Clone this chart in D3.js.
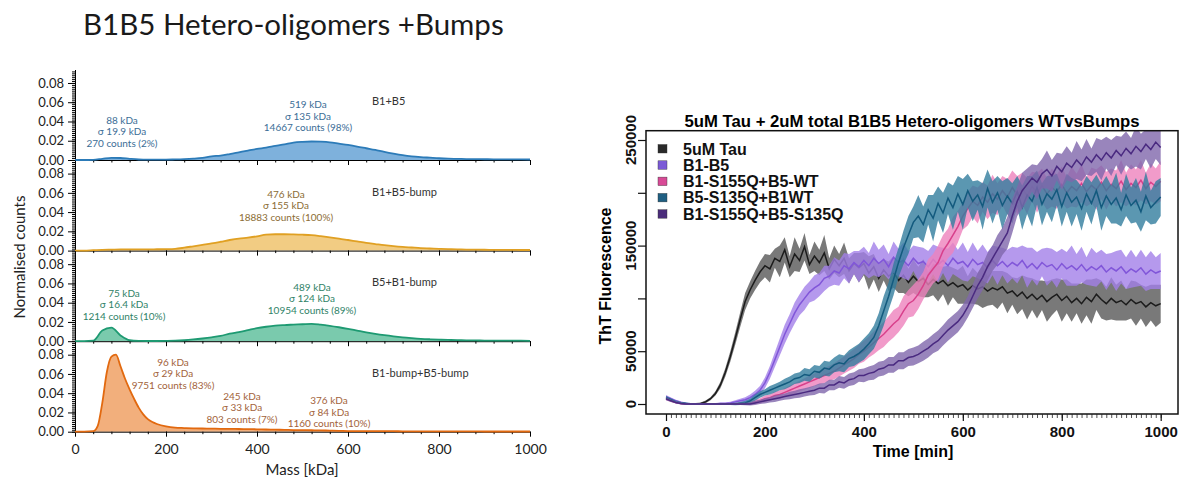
<!DOCTYPE html>
<html>
<head>
<meta charset="utf-8">
<script src="https://cdn.jsdelivr.net/npm/d3@7"></script>
<style>
  body { margin: 0; background: #fff; }
  svg { display: block; }
</style>
</head>
<body>
<div id="chart"></div>
<script>
// ---------------- data : mass photometry histograms ----------------
const figureTitle = 'B1B5 Hetero-oligomers +Bumps';
const sampleNames = ['B1+B5', 'B1+B5-bump', 'B5+B1-bump', 'B1-bump+B5-bump'];
const massTicks = [0, 200, 400, 600, 800, 1000];
const countTicks = [0, 0.02, 0.04, 0.06, 0.08];

const massGrid = d3.range(0, 1001, 20);
const massGridB = [0, 20, 40, 50, 60, 70, 80, 90, 100, 110, 120, 130, 140, 150, 160, 170, 180]
  .concat(d3.range(200, 1001, 20));

const countsB1B5 = [
  0, 0, 0.0002, 0.0012, 0.0022, 0.0021, 0.0012, 0.0005, 0.0003, 0.0003,
  0.0004, 0.0006, 0.0009, 0.0014, 0.0022, 0.0038, 0.0046, 0.0062, 0.0080, 0.0098,
  0.0115, 0.0128, 0.0146, 0.0162, 0.0180, 0.0188, 0.0192, 0.0190, 0.0184, 0.0170,
  0.0156, 0.0140, 0.0122, 0.0104, 0.0084, 0.0066, 0.0050, 0.0038, 0.0030, 0.0024,
  0.0018, 0.0014, 0.0012, 0.0010, 0.0009, 0.0008, 0.0007, 0.0007, 0.0006, 0.0006,
  0.0005];
const countsB1B5bump = [
  0, 0, 0.0004, 0.0008, 0.0010, 0.0012, 0.0012, 0.0013, 0.0013, 0.0014,
  0.0015, 0.0018, 0.0030, 0.0045, 0.0060, 0.0075, 0.0092, 0.0110, 0.0125, 0.0135,
  0.0148, 0.0165, 0.0170, 0.0170, 0.0168, 0.0165, 0.0160, 0.0150, 0.0138, 0.0125,
  0.0110, 0.0095, 0.0080, 0.0068, 0.0056, 0.0046, 0.0038, 0.0032, 0.0026, 0.0022,
  0.0018, 0.0015, 0.0013, 0.0011, 0.0010, 0.0009, 0.0008, 0.0007, 0.0007, 0.0006,
  0.0006];
const countsB5B1bump = [
  0, 0, 0.0005, 0.0110, 0.0140, 0.0060, 0.0010, 0.0003, 0.0002, 0.0002,
  0.0003, 0.0005, 0.0010, 0.0018, 0.0028, 0.0040, 0.0055, 0.0078, 0.0095, 0.0115,
  0.0135, 0.0150, 0.0162, 0.0168, 0.0172, 0.0176, 0.0180, 0.0172, 0.0160, 0.0145,
  0.0128, 0.0110, 0.0092, 0.0076, 0.0062, 0.0050, 0.0040, 0.0032, 0.0025, 0.0020,
  0.0016, 0.0013, 0.0011, 0.0009, 0.0008, 0.0007, 0.0006, 0.0006, 0.0005, 0.0005,
  0.0004];
const countsBothBump = [
  0, 0, 0.0005, 0.006, 0.030, 0.062, 0.078, 0.080, 0.068, 0.055,
  0.044, 0.034, 0.025, 0.018, 0.013, 0.010, 0.008,
  0.0055, 0.0042, 0.0038, 0.0035, 0.0033, 0.0032, 0.0030, 0.0030, 0.0028, 0.0027,
  0.0025, 0.0023, 0.0021, 0.0019, 0.0017, 0.0016, 0.0015, 0.0014, 0.0011, 0.0009,
  0.0007, 0.0006, 0.0006, 0.0005, 0.0005, 0.0005, 0.0004, 0.0004, 0.0004, 0.0004,
  0.0003, 0.0003, 0.0003, 0.0003, 0.0003, 0.0002, 0.0002, 0.0002, 0.0002, 0.0002,
  0.0002];

// fitted peaks: [mass, sigma, counts, percent]
const peaksB1B5 = [['88', '19.9', '270', '2'], ['519', '135', '14667', '98']];
const peaksB1B5bump = [['476', '155', '18883', '100']];
const peaksB5B1bump = [['75', '16.4', '1214', '10'], ['489', '124', '10954', '89']];
const peaksBothBump = [['96', '29', '9751', '83'], ['245', '33', '803', '7'], ['376', '84', '1160', '10']];

// ---------------- data : ThT kinetics (values in thousands) ----------------
const kineticsTitle = '5uM Tau + 2uM total B1B5 Hetero-oligomers WTvsBumps';
const conditions = ['5uM Tau', 'B1-B5', 'B1-S155Q+B5-WT', 'B5-S135Q+B1WT', 'B1-S155Q+B5-S135Q'];
const timeGrid = d3.range(0, 1001, 10);
const timeTicks = [0, 200, 400, 600, 800, 1000];
const thtTicks = [0, 50000, 100000, 150000, 200000, 250000];
const thtTickLabels = ['0', '50000', '', '150000', '', '250000'];

const thtTau = [
  6, 4, 2, 1, 0, 0, 0, 0.5, 2, 5,
  10, 18, 30, 45, 62, 80, 97, 108, 117, 125,
  131, 128, 138, 135, 146, 130, 142, 136, 149, 132,
  140, 134, 143, 128, 137, 131, 138, 126, 133, 129,
  133, 124, 130, 119, 127, 121, 125, 117, 122, 115,
  121, 116, 119, 113, 118, 114, 117, 112, 115, 111,
  113, 108, 112, 109, 111, 107, 110, 108, 111, 105,
  107, 102, 106, 100, 104, 99, 103, 97, 101, 104,
  98, 102, 96, 100, 95, 101, 97, 104, 99, 95,
  100, 96, 98, 94, 99, 95, 97, 92, 96, 93,
  95];
const sdTau = [
  1.5, 1.2, 1, 1, 1, 1, 1, 1, 1.2,
  1.5, 2, 3, 4, 5, 6, 7, 8, 8, 9, 10,
  11, 13, 9, 15, 12, 10, 16, 11, 13, 9, 14, 12, 17, 10, 13, 11, 15, 12, 10, 14, 11, 16, 12, 13, 10, 14,
  15, 12, 17, 13, 16, 14, 18, 12, 15, 17, 13, 19, 14, 16, 18, 13, 17, 15, 20, 14,
  16, 18, 15, 19, 13, 17, 16, 20, 15, 18, 14, 19, 17, 15, 20, 16, 18, 14, 19, 17,
  21, 15, 18, 16, 20, 17, 19, 15, 18, 21, 16, 19, 17, 20, 18];

const thtB1B5 = [
  7, 5, 3, 1.5, 0.5, 0, 0, 0, 0, 0,
  0, 0.5, 0.5, 1, 2, 3, 4, 6, 9, 13,
  20, 30, 42, 54, 66, 76, 86, 94, 100, 106,
  110, 113, 119, 121, 126, 124, 131, 128, 134, 130,
  136, 131, 138, 133, 137, 130, 139, 134, 136, 131,
  138, 133, 135, 130, 137, 132, 136, 131, 138, 133,
  135, 130, 137, 132, 134, 129, 136, 131, 135, 130,
  134, 131, 136, 129, 133, 128, 134, 130, 132, 127,
  133, 128, 131, 127, 132, 126, 130, 127, 131, 125,
  129, 126, 130, 124, 128, 125, 129, 123, 127, 124,
  126];
const sdB1B5 = [
  1.5, 1.2, 1, 1, 1, 1, 1, 1, 1, 1, 1, 1, 1, 1.2, 1.5, 2,
  2.5, 3, 3.5, 4, 5, 6, 7, 8, 9, 9, 10, 10, 11, 10, 12, 11, 12, 10, 13, 12,
  12, 14, 11, 15, 13, 12, 16, 13, 14, 12, 15, 13, 17, 14, 12, 16, 13, 15, 14, 17,
  12, 16, 15, 13, 18, 14, 16, 13, 17, 15, 14, 18, 13, 16, 15, 17, 14, 19, 15, 16,
  13, 18, 15, 17, 14, 16, 19, 15, 17, 13, 18, 16, 15, 17, 14, 19, 16, 15, 18, 14,
  17, 16, 18, 15, 17];

const thtB1mut = [
  5, 3, 1.5, 0.5, 0, 0, 0, 0, 0, 0,
  0, 0, 0, 0, 0, 0.5, 0.5, 1, 2, 3,
  5, 6, 8, 9, 11, 13, 15, 17, 19, 21,
  23, 25, 27, 29, 31, 34, 37, 40, 43, 47,
  50, 54, 58, 62, 66, 71, 76, 80, 88, 95,
  98, 104, 112, 122, 128, 134, 145, 152, 160, 168,
  178, 185, 192, 188, 196, 191, 199, 194, 202, 196,
  205, 198, 204, 197, 206, 200, 207, 199, 205, 201,
  208, 200, 206, 202, 209, 201, 207, 203, 210, 202,
  208, 204, 211, 203, 209, 205, 212, 204, 210, 206,
  211];
const sdB1mut = [
  1.5, 1.2, 1, 1, 1, 1, 1, 1, 1, 1, 1, 1, 1, 1, 1, 1.2, 1.5,
  2, 2, 2.5, 3, 3, 3.5, 4, 4, 4.5, 5, 5, 5.5, 6, 6, 6.5, 7, 7, 7.5, 8, 8, 8.5, 9, 9, 10, 10, 11, 11, 12,
  12, 13, 12, 14, 13, 15, 14, 13, 15, 14, 16, 15, 14, 17, 15, 13, 16, 15, 17, 14,
  16, 18, 15, 14, 17, 16, 18, 15, 17, 14, 19, 16, 15, 18, 16, 17, 15, 19, 16, 18,
  14, 17, 19, 16, 18, 15, 17, 20, 16, 18, 17, 19, 15, 18, 17, 19];

const thtB5mut = [
  6, 4, 2, 1, 0.5, 0, 0, 0, 0, 0,
  0, 0, 0, 0, 0, 0.5, 1, 3, 6, 9,
  11, 13, 15, 17, 19, 21, 24, 25, 28, 27,
  31, 30, 34, 33, 37, 39, 38, 43, 45, 48,
  52, 57, 63, 74, 88, 102, 118, 134, 148, 160,
  172, 178, 170, 184, 176, 190, 181, 195, 186, 199,
  189, 202, 192, 198, 187, 204, 191, 200, 188, 197,
  190, 201, 186, 198, 192, 205, 189, 199, 194, 203,
  187, 200, 191, 196, 185, 199, 190, 202, 186, 197,
  189, 195, 184, 198, 188, 193, 182, 197, 186, 191,
  196];
const sdB5mut = [
  1.5, 1.2, 1, 1, 1, 1, 1, 1, 1, 1, 1, 1, 1, 1, 1.2, 1.5,
  2, 2, 3, 3, 3, 4, 4, 4, 5, 5, 5, 5, 6, 6, 6, 6, 7, 7, 7, 8, 8, 8, 9, 9, 10, 10, 11,
  12, 14, 13, 15, 14, 16, 18, 15, 20, 17, 14, 22, 16, 19, 15, 21, 17, 24, 16, 19,
  14, 22, 18, 20, 16, 23, 17, 19, 15, 21, 18, 24, 16, 20, 17, 22, 15, 19, 18, 23,
  16, 21, 17, 20, 15, 22, 19, 18, 24, 16, 20, 17, 21, 19, 23, 16, 20, 18];

const thtBothMut = [
  5, 3, 1.5, 0.5, 0, 0, 0, 0, 0, 0,
  0, 0, 0, 0, 0, 0, 0, 0, 1, 2,
  3, 4, 5, 6, 7, 8, 9, 10, 11, 12,
  13, 15, 15, 18, 18, 21, 20, 23, 24, 27,
  27, 29, 30, 33, 34, 37, 37, 41, 41, 44,
  45, 47, 50, 53, 57, 60, 65, 70, 74, 78,
  84, 92, 102, 112, 120, 130, 138, 146, 154, 162,
  178, 192, 202, 208, 214, 210, 218, 222, 216, 225,
  220, 228, 224, 231, 226, 234, 229, 236, 231, 238,
  233, 240, 235, 242, 237, 244, 239, 246, 241, 248,
  243];
const sdBothMut = [
  1.5, 1.2, 1, 1, 1, 1, 1, 1, 1, 1, 1, 1, 1, 1, 1, 1, 1.2, 1.5,
  2, 2, 2.5, 2.5, 3, 3, 3, 3.5, 3.5, 4, 4, 4, 4.5, 4.5, 5, 5, 5, 5.5, 5.5, 6,
  6, 6, 6.5, 6.5, 7, 7, 7, 7.5, 7.5, 8, 8, 8, 8.5, 8.5, 9, 9, 9, 9.5, 9.5, 10, 10, 10, 10,
  10, 11, 12, 12, 13, 12, 14, 13, 15, 16, 14, 17, 15, 13, 16, 14, 18, 15, 13, 17,
  16, 14, 18, 15, 17, 13, 16, 19, 15, 17, 14, 18, 16, 15, 19, 17, 14, 18, 16, 17];

// ---------------- styles ----------------
const histStyle = [
  {line: '#2c7bb8', fill: '#70a8d8', text: '#3b6d96'},
  {line: '#e0a023', fill: '#f1c676', text: '#8b6c34'},
  {line: '#1e9a72', fill: '#6cc4a4', text: '#2f8267'},
  {line: '#e2690f', fill: '#f1a66e', text: '#a2623a'}
];
// first-line anchor (px) of each peak annotation
const peakAnchors = [
  [[122, 123.5], [308, 108]],
  [[286, 197.5]],
  [[124, 296.5], [312, 290.5]],
  [[173, 365.5], [242, 399.5], [329, 404]]
];
const kinStyle = [
  {line: '#1b1b1b', band: '#575757', key: '#2a2a2a'},
  {line: '#8156d9', band: '#a27fe8', key: '#7b5ad6'},
  {line: '#d8408b', band: '#ee82bd', key: '#d84a96'},
  {line: '#135a7e', band: '#327d9e', key: '#1f5f82'},
  {line: '#4a2a80', band: '#7f66ab', key: '#4a2c7a'}
];

const width = 1180, height = 478;
const svg = d3.select('#chart').append('svg')
    .attr('width', width)
    .attr('height', height);

// ================= left: histograms =================
const leftFont = 'Lato, "Open Sans", sans-serif';

svg.append('text')
    .attr('x', 83).attr('y', 35)
    .attr('font-family', leftFont)
    .attr('font-size', 29.5)
    .attr('fill', '#1a1a1a')
    .text(figureTitle);

const massX = d3.scaleLinear().domain([0, 1000]).range([75, 530]);
const panelZero = [160, 250.6, 341.2, 431.7];
const panelTopValue = 0.094;

const histograms = [
  {mass: massGrid, counts: countsB1B5, peaks: peaksB1B5},
  {mass: massGrid, counts: countsB1B5bump, peaks: peaksB1B5bump},
  {mass: massGrid, counts: countsB5B1bump, peaks: peaksB5B1bump},
  {mass: massGridB, counts: countsBothBump, peaks: peaksBothBump}
];

histograms.forEach((h, i) => {
  const z = panelZero[i];
  const y = d3.scaleLinear().domain([0, panelTopValue]).range([z, z - 90.5]);
  const g = svg.append('g');
  const pts = h.mass.map((m, k) => [m, h.counts[k]]);

  g.append('path')
      .datum(pts)
      .attr('fill', histStyle[i].fill)
      .attr('opacity', 0.9)
      .attr('d', d3.area().x(d => massX(d[0])).y0(y(0)).y1(d => y(d[1])).curve(d3.curveMonotoneX));

  // y axis, minor then major
  g.append('g')
      .attr('transform', `translate(${massX(0)},0)`)
      .call(d3.axisLeft(y).tickValues(d3.range(0, 0.0921, 0.002)).tickSize(3).tickFormat('').tickSizeOuter(0))
      .call(a => a.select('.domain').remove());
  g.append('g')
      .attr('transform', `translate(${massX(0)},0)`)
      .call(d3.axisLeft(y).tickValues(countTicks).tickSize(7).tickPadding(4)
        .tickFormat(d3.format('.2f')).tickSizeOuter(0))
      .call(a => a.selectAll('text').attr('font-family', leftFont).attr('font-size', 13).attr('fill', '#222'));

  // x axis
  const xa = g.append('g').attr('transform', `translate(0,${z})`);
  xa.call(d3.axisBottom(massX).tickValues(d3.range(0, 1001, 40)).tickSize(2.5).tickFormat('').tickSizeOuter(0));
  const xm = g.append('g').attr('transform', `translate(0,${z})`)
      .call(d3.axisBottom(massX).tickValues(massTicks).tickSize(5).tickPadding(7)
        .tickFormat(d3.format('d')).tickSizeOuter(0));
  xm.select('.domain').remove();
  if (i < 3) xm.selectAll('text').remove();
  else xm.selectAll('text').attr('font-family', leftFont).attr('font-size', 14).attr('fill', '#222');

  g.append('path')
      .datum(pts)
      .attr('fill', 'none')
      .attr('stroke', histStyle[i].line)
      .attr('stroke-width', 1.8)
      .attr('d', d3.line().x(d => massX(d[0])).y(d => y(d[1])).curve(d3.curveMonotoneX));

  g.append('text')
      .attr('x', 372).attr('y', z - 55)
      .attr('font-family', leftFont).attr('font-size', 11)
      .attr('fill', '#333')
      .text(sampleNames[i]);

  h.peaks.forEach((p, k) => {
    const [ax, ay] = peakAnchors[i][k];
    const t = g.append('text')
        .attr('font-family', leftFont).attr('font-size', 10)
        .attr('fill', histStyle[i].text)
        .attr('text-anchor', 'middle');
    [`${p[0]} kDa`, `σ ${p[1]} kDa`, `${p[2]} counts (${p[3]}%)`].forEach((s, r) => {
      t.append('tspan').attr('x', ax).attr('y', ay + r * 11.5).text(s);
    });
  });
});

svg.append('text')
    .attr('transform', 'translate(25,257) rotate(-90)')
    .attr('text-anchor', 'middle')
    .attr('font-family', leftFont).attr('font-size', 15)
    .attr('fill', '#222')
    .text('Normalised counts');

svg.append('text')
    .attr('x', 302).attr('y', 475)
    .attr('text-anchor', 'middle')
    .attr('font-family', leftFont).attr('font-size', 15)
    .attr('fill', '#222')
    .text('Mass [kDa]');

// ================= right: ThT kinetics =================
const rightFont = '"Liberation Sans", Arial, sans-serif';
const box = {left: 646, top: 130.7, right: 1178, bottom: 414};

const timeX = d3.scaleLinear().domain([0, 1000]).range([666, 1160.7]);
const thtY = d3.scaleLinear().domain([0, 250000]).range([404, 140]);

svg.append('defs').append('clipPath').attr('id', 'plot-clip')
  .append('rect')
    .attr('x', box.left).attr('y', box.top)
    .attr('width', box.right - box.left).attr('height', box.bottom - box.top);

const series = [
  {mean: thtTau, sd: sdTau},
  {mean: thtB1B5, sd: sdB1B5},
  {mean: thtB1mut, sd: sdB1mut},
  {mean: thtB5mut, sd: sdB5mut},
  {mean: thtBothMut, sd: sdBothMut}
];

const plot = svg.append('g').attr('clip-path', 'url(#plot-clip)');
series.forEach((s, i) => {
  const pts = timeGrid.map((t, k) => ({t: t, m: s.mean[k] * 1000, sd: s.sd[k] * 1000}));
  plot.append('path')
      .datum(pts)
      .attr('fill', kinStyle[i].band)
      .attr('opacity', 0.8)
      .attr('d', d3.area().x(d => timeX(d.t)).y0(d => thtY(d.m - d.sd)).y1(d => thtY(d.m + d.sd)));
  plot.append('path')
      .datum(pts)
      .attr('fill', 'none')
      .attr('stroke', kinStyle[i].line)
      .attr('stroke-width', 1.5)
      .attr('d', d3.line().x(d => timeX(d.t)).y(d => thtY(d.m)));
});

svg.append('rect')
    .attr('x', box.left).attr('y', box.top)
    .attr('width', box.right - box.left).attr('height', box.bottom - box.top)
    .attr('fill', 'none').attr('stroke', '#111').attr('stroke-width', 1.5);

// y axis
const ya = svg.append('g')
    .attr('transform', `translate(${box.left},0)`)
    .call(d3.axisLeft(thtY).tickValues(thtTicks).tickSize(8).tickFormat(''));
ya.select('.domain').remove();
ya.selectAll('line').attr('stroke', '#111').attr('stroke-width', 1.2);
thtTicks.forEach((v, k) => {
  svg.append('text')
      .attr('transform', `translate(635.5,${thtY(v)}) rotate(-90)`)
      .attr('text-anchor', 'middle')
      .attr('font-family', rightFont).attr('font-weight', 'bold').attr('font-size', 15)
      .attr('fill', '#111')
      .text(thtTickLabels[k]);
});

// x axis
const xMinor = svg.append('g')
    .attr('transform', `translate(0,${box.bottom})`)
    .call(d3.axisBottom(timeX).tickValues(timeGrid).tickSize(4).tickFormat(''));
xMinor.select('.domain').remove();
xMinor.selectAll('line').attr('stroke', '#222').attr('stroke-width', 0.8);
const xMajor = svg.append('g')
    .attr('transform', `translate(0,${box.bottom})`)
    .call(d3.axisBottom(timeX).tickValues(timeTicks).tickSize(7).tickPadding(5).tickFormat(d3.format('d')));
xMajor.select('.domain').remove();
xMajor.selectAll('line').attr('stroke', '#111').attr('stroke-width', 1.2);
xMajor.selectAll('text')
    .attr('font-family', rightFont).attr('font-weight', 'bold').attr('font-size', 15)
    .attr('fill', '#111');

svg.append('text')
    .attr('x', 913).attr('y', 457)
    .attr('text-anchor', 'middle')
    .attr('font-family', rightFont).attr('font-weight', 'bold').attr('font-size', 16)
    .text('Time [min]');

svg.append('text')
    .attr('transform', 'translate(611,276) rotate(-90)')
    .attr('text-anchor', 'middle')
    .attr('font-family', rightFont).attr('font-weight', 'bold').attr('font-size', 16)
    .text('ThT Fluorescence');

svg.append('text')
    .attr('x', 912).attr('y', 126.5)
    .attr('text-anchor', 'middle')
    .attr('font-family', rightFont).attr('font-weight', 'bold').attr('font-size', 16.5)
    .attr('textLength', 455).attr('lengthAdjust', 'spacingAndGlyphs')
    .text(kineticsTitle);

// legend
const legend = svg.append('g').attr('transform', 'translate(658,149)');
conditions.forEach((c, i) => {
  const row = legend.append('g').attr('transform', `translate(0,${i * 16.3})`);
  row.append('rect')
      .attr('x', 0).attr('y', -4.5).attr('width', 9).attr('height', 8.5)
      .attr('fill', kinStyle[i].key).attr('stroke', '#333').attr('stroke-width', 0.4);
  row.append('text')
      .attr('x', 25).attr('y', 5.5)
      .attr('font-family', rightFont).attr('font-weight', 'bold').attr('font-size', 16)
      .attr('fill', '#111')
      .text(c);
});
</script>
</body>
</html>
